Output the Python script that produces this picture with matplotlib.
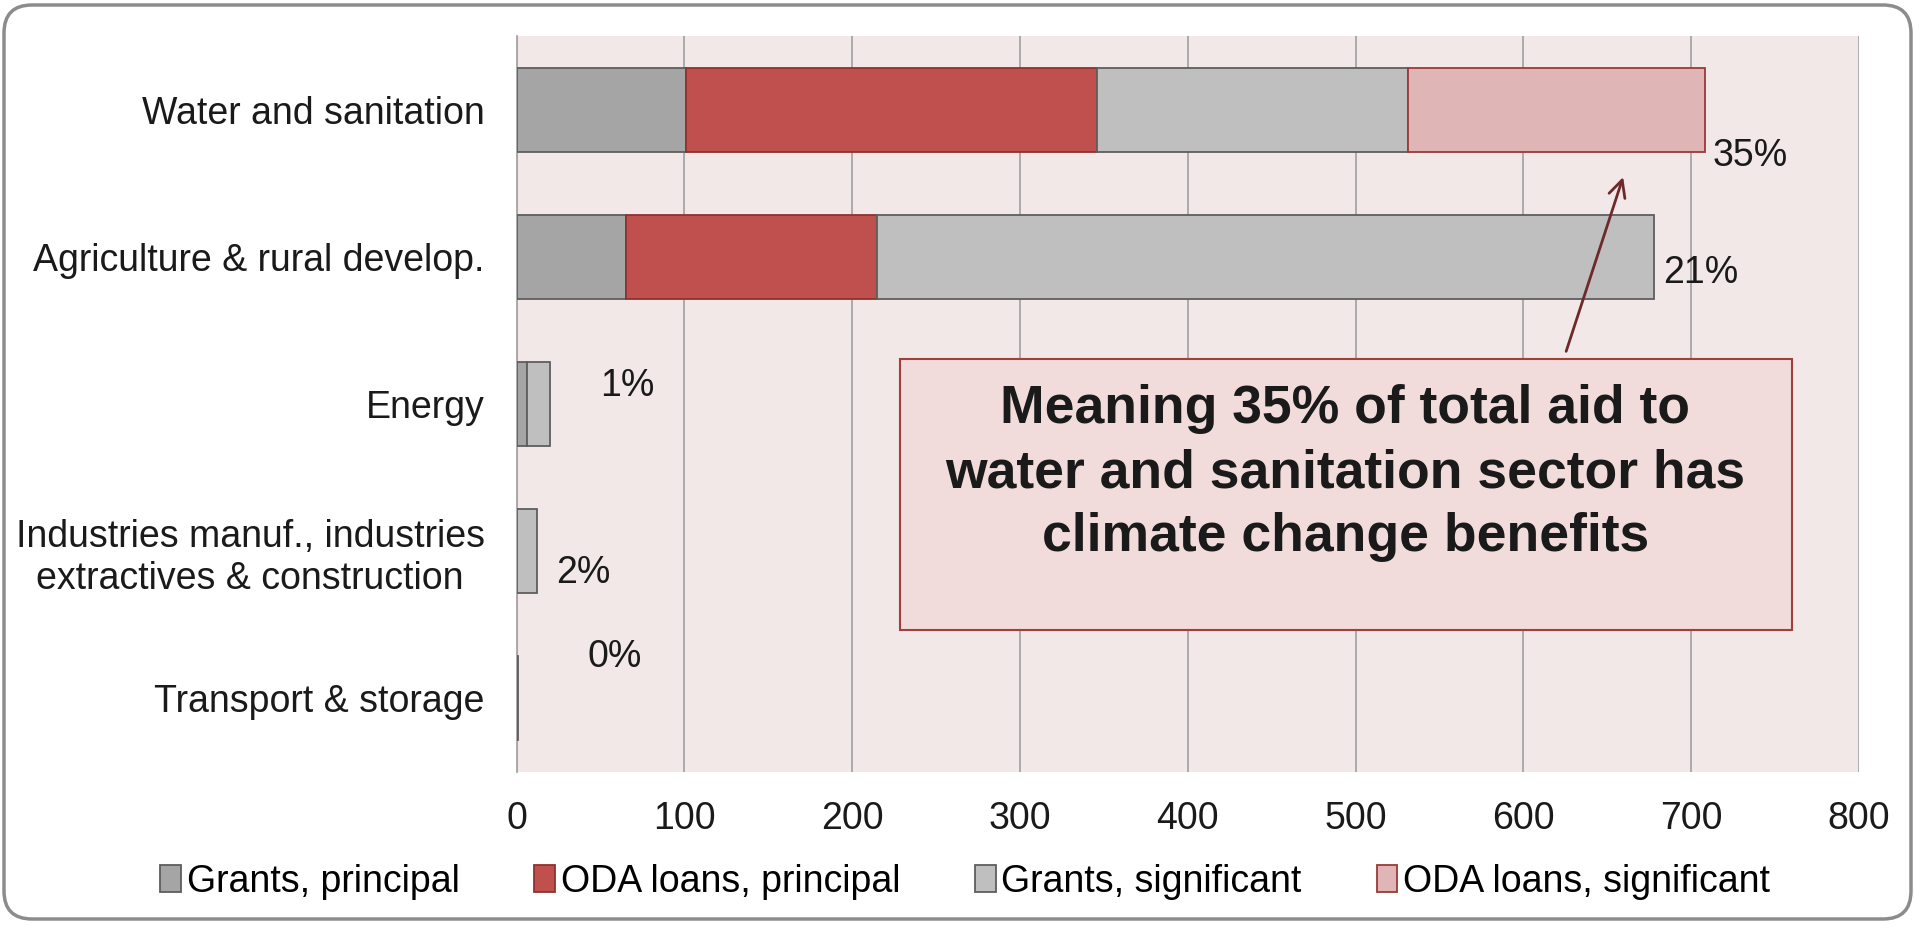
import matplotlib
matplotlib.use("Agg")
import matplotlib.pyplot as plt
from matplotlib.patches import Rectangle, FancyBboxPatch

plt.rcParams['font.family'] = ['Liberation Sans', 'DejaVu Sans']

sectors = ['Water and sanitation', 'Agriculture & rural develop.', 'Energy',
           'Industries manuf., industries\nextractives & construction', 'Transport & storage']
series = ['Grants, principal', 'ODA loans, principal', 'Grants, significant', 'ODA loans, significant']
grants_principal = [101, 65, 6, 0, 0]
oda_principal = [245, 150, 0, 0, 0]
grants_significant = [185, 463, 14, 12, 0.6]
oda_significant = [177, 0, 0, 0, 0]
share_labels = ['35%', '21%', '1%', '2%', '0%']

fills = ['#A5A5A5', '#C0504D', '#BFBFBF', '#DFB5B5']
edges = ['#5E5E5E', '#8E3330', '#5E5E5E', '#9A3A38']

fig = plt.figure(figsize=(19.15, 9.25), dpi=100)
ax = fig.add_axes([0.2698, 0.1654, 0.7009, 0.7956])
ax.set_facecolor('#F2E8E8')

y = list(range(len(sectors)))
left = [0.0] * len(sectors)
for vals, name, fc, ec in zip([grants_principal, oda_principal, grants_significant, oda_significant],
                              series, fills, edges):
    # skip empty segments so their outlines are not drawn
    idx = [i for i, v in enumerate(vals) if v > 0]
    ax.barh([y[i] for i in idx], [vals[i] for i in idx], left=[left[i] for i in idx],
            height=0.57, color=fc, edgecolor=ec, linewidth=1.3, label=name, zorder=3)
    left = [l + v for l, v in zip(left, vals)]

ax.set_xlim(0, 800)
ax.set_ylim(4.5, -0.5)
ax.set_xticks(range(0, 801, 100))
ax.set_yticks(y)
ax.set_yticklabels(sectors, fontsize=27, color='#1A1A1A', multialignment='center')
ax.tick_params(axis='x', labelsize=27, colors='#1A1A1A', length=0, pad=21)
ax.tick_params(axis='y', length=0, pad=23)
ax.grid(axis='x', color='#A6A6A6', linewidth=1.3, zorder=0)
for s in ['top', 'right', 'bottom']:
    ax.spines[s].set_visible(False)
ax.spines['left'].set_color('#A6A6A6')
ax.spines['left'].set_linewidth(1.3)

# share labels placed like the original (manually offset)
label_dx = [27, 28, 46, 28, 58]
label_dy = [0.315, 0.11, -0.12, 0.145, -0.28]
for i, txt in enumerate(share_labels):
    ax.text(left[i] + label_dx[i], i + label_dy[i], txt, fontsize=27, color='#1A1A1A',
            ha='center', va='center', zorder=5)

# callout box
ax.add_patch(Rectangle((228.5, 1.694), 531.5, 1.841, facecolor='#F2DCDB', edgecolor='#A0403D',
                       linewidth=1.5, zorder=4))
ax.text(494, 2.47, 'Meaning 35% of total aid to\nwater and sanitation sector has\nclimate change benefits',
        fontsize=38.5, fontweight='bold', color='#1A1A1A', ha='center', va='center',
        linespacing=1.36, zorder=5)
ax.annotate('', xy=(660, 0.44), xytext=(625, 1.66),
            arrowprops=dict(arrowstyle='->', color='#6E2A2A', lw=2, mutation_scale=30), zorder=5)

fig.legend(loc='center', bbox_to_anchor=(0.504, 0.047), ncol=4, frameon=False,
           fontsize=27, handlelength=0.55, handleheight=0.75, handletextpad=0.15,
           columnspacing=2.0)

# rounded frame around the whole chart
frame = FancyBboxPatch((4, 6), 1907, 914, boxstyle='round,pad=0,rounding_size=28',
                       transform=None, facecolor='none', edgecolor='#8C8C8C', linewidth=2.5)
fig.patches.append(frame)

fig.savefig('out.png', dpi=100)
